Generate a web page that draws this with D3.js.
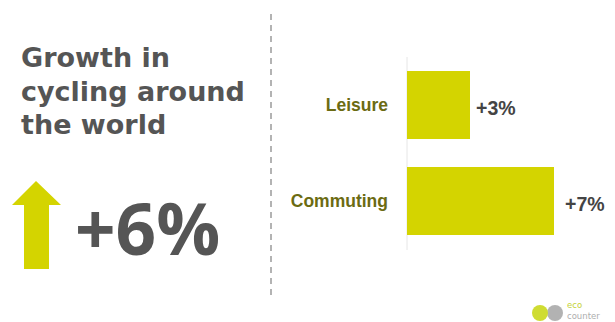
<!DOCTYPE html>
<html>
<head>
<meta charset="utf-8">
<script src="https://cdn.jsdelivr.net/npm/d3@7"></script>
<style>
  html, body { margin: 0; padding: 0; background: #ffffff; }
  svg { display: block; }
</style>
</head>
<body>
<svg id="chart" width="615" height="322"></svg>
<script>
// Growth in cycling by trip purpose (%)
const categories = ["Leisure", "Commuting"];
const growthValues = [3, 7];
const valueLabels = ["+3%", "+7%"];
const titleLines = ["Growth in", "cycling around", "the world"];
const overallGrowth = "+6%";

const lime = "#d4d400";
const grey = "#555555";
const olive = "#6b6b12";

const svg = d3.select("#chart");

// Headline block on the left, one text per line
svg.selectAll("text.title")
  .data(titleLines)
  .join("text")
  .attr("class", "title")
  .attr("x", 21)
  .attr("y", (d, i) => 67 + i * 33.5)
  .attr("font-family", "'DejaVu Sans', sans-serif")
  .attr("font-weight", 700)
  .attr("font-size", 27)
  .attr("fill", grey)
  .text(d => d);

// Upward arrow
const arrow = d3.path();
arrow.moveTo(36, 181);
arrow.lineTo(61, 205);
arrow.lineTo(49, 205);
arrow.lineTo(49, 269);
arrow.lineTo(24, 269);
arrow.lineTo(24, 205);
arrow.lineTo(12, 205);
arrow.closePath();
svg.append("path").attr("d", arrow.toString()).attr("fill", lime);

svg.append("text")
  .attr("x", 75)
  .attr("y", 255)
  .attr("font-family", "'Open Sans', sans-serif")
  .attr("font-weight", 700)
  .attr("font-size", 71)
  .attr("fill", grey)
  .text(overallGrowth);

// Dashed divider
svg.append("line")
  .attr("x1", 271).attr("x2", 271)
  .attr("y1", 14).attr("y2", 299)
  .attr("stroke", "#9a9a9a")
  .attr("stroke-width", 1.5)
  .attr("stroke-dasharray", "6,5");

// Bar chart on the right
const x = d3.scaleLinear().domain([0, 7]).range([407, 554]);
const y = d3.scaleBand().domain(categories).range([57, 249])
  .paddingInner(0.2917).paddingOuter(0.1458);

svg.append("line")
  .attr("x1", x(0)).attr("x2", x(0))
  .attr("y1", 57).attr("y2", 250)
  .attr("stroke", "#e6e6e6")
  .attr("stroke-width", 1);

svg.selectAll("rect.bar")
  .data(categories)
  .join("rect")
  .attr("class", "bar")
  .attr("x", x(0))
  .attr("y", d => y(d))
  .attr("width", (d, i) => x(growthValues[i]) - x(0))
  .attr("height", y.bandwidth())
  .attr("fill", lime);

svg.selectAll("text.cat")
  .data(categories)
  .join("text")
  .attr("class", "cat")
  .attr("x", 388)
  .attr("y", d => y(d) + y.bandwidth() / 2)
  .attr("dy", "0.35em")
  .attr("text-anchor", "end")
  .attr("font-family", "'Liberation Sans', Arial, sans-serif")
  .attr("font-weight", 700)
  .attr("font-size", 17.5)
  .attr("fill", olive)
  .text(d => d);

svg.selectAll("text.val")
  .data(categories)
  .join("text")
  .attr("class", "val")
  .attr("x", (d, i) => x(growthValues[i]) + (i === 0 ? 6 : 11))
  .attr("y", d => y(d) + y.bandwidth() / 2 + 3)
  .attr("dy", "0.35em")
  .attr("font-family", "'Liberation Sans', Arial, sans-serif")
  .attr("font-weight", 700)
  .attr("font-size", 19.5)
  .attr("fill", "#444444")
  .text((d, i) => valueLabels[i]);

// Brand mark, bottom right
const logo = svg.append("g").attr("opacity", 0.8);
logo.append("circle").attr("cx", 555).attr("cy", 313).attr("r", 8).attr("fill", "#a0a0a0");
logo.append("circle").attr("cx", 540).attr("cy", 313).attr("r", 8).attr("fill", "#c4d400");
logo.append("text")
  .attr("x", 567).attr("y", 308)
  .attr("font-family", "'DejaVu Sans', sans-serif")
  .attr("font-size", 8.5)
  .attr("fill", "#b6c800")
  .text("eco");
logo.append("text")
  .attr("x", 567).attr("y", 319)
  .attr("font-family", "'DejaVu Sans', sans-serif")
  .attr("font-size", 8.5)
  .attr("fill", "#9a9a9a")
  .text("counter");
</script>
</body>
</html>
